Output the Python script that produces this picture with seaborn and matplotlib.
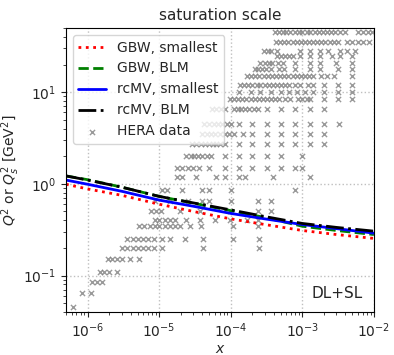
import numpy as np
import pandas as pd
import seaborn as sns
import matplotlib.pyplot as plt

# saturation scale curves
x_curve = [5e-7, 1e-6, 3e-6, 1e-5, 3e-5, 1e-4, 3e-4, 1e-3, 3e-3, 1e-2]
gbw_smallest = [0.99, 0.88, 0.75, 0.60, 0.50, 0.415, 0.36, 0.31, 0.28, 0.254]
gbw_blm = [1.22, 1.11, 0.92, 0.73, 0.615, 0.51, 0.43, 0.345, 0.31, 0.28]
rcmv_smallest = [1.10, 0.99, 0.83, 0.665, 0.57, 0.476, 0.415, 0.36, 0.325, 0.29]
rcmv_blm = [1.22, 1.10, 0.92, 0.73, 0.62, 0.52, 0.44, 0.37, 0.335, 0.305]

# HERA data points: one Q^2 bin per row, x values in that bin
hera_q2 = [45, 35, 28, 25, 21, 18, 15, 12, 10, 8.5, 6.5, 4.5, 3.5, 2.7, 2.0, 1.5, 1.2,
           0.85, 0.65, 0.5, 0.4, 0.35, 0.25, 0.2, 0.15, 0.11, 0.085, 0.065, 0.045]
hera_x = [
    [4.1e-4, 4.7e-4, 5.3e-4, 6.0e-4, 6.8e-4, 7.8e-4, 8.9e-4, 1.0e-3, 1.15e-3, 1.3e-3, 1.5e-3,
     1.7e-3, 1.95e-3, 2.2e-3, 2.5e-3, 2.9e-3, 3.4e-3, 4.0e-3, 6.0e-3, 7.0e-3, 8.2e-3, 9.4e-3],
    [4.3e-4, 4.9e-4, 5.6e-4, 6.4e-4, 7.3e-4, 8.3e-4, 9.5e-4, 1.08e-3, 1.23e-3, 1.4e-3, 1.6e-3,
     1.85e-3, 2.1e-3, 2.4e-3, 2.75e-3, 3.2e-3, 4.2e-3, 5.0e-3, 6.0e-3, 7.0e-3, 8.5e-3],
    [2.9e-4, 3.3e-4, 3.7e-4, 4.5e-4, 9.2e-4, 1.27e-3, 1.76e-3, 2.3e-3, 3.35e-3, 4.2e-3, 5.4e-3],
    [4.5e-4, 5.1e-4, 5.8e-4, 6.5e-4, 7.4e-4, 9.4e-4, 1.27e-3, 1.76e-3, 2.6e-3, 3.35e-3, 4.9e-3],
    [2.6e-4, 3.0e-4, 3.4e-4, 3.8e-4, 4.6e-4, 5.3e-4, 8.0e-4, 1.27e-3, 1.76e-3, 2.95e-3, 4.9e-3],
    [2.2e-4, 2.4e-4, 2.75e-4, 3.1e-4, 3.6e-4, 4.7e-4, 5.5e-4, 8.0e-4, 1.27e-3, 1.76e-3, 3.2e-3, 4.9e-3],
    [1.7e-4, 1.95e-4, 2.2e-4, 2.5e-4, 2.9e-4, 3.3e-4, 3.8e-4, 4.3e-4, 4.9e-4, 5.6e-4, 6.4e-4,
     7.3e-4, 8.3e-4, 9.5e-4, 1.08e-3, 1.23e-3, 1.4e-3, 1.8e-3, 2.2e-3, 2.8e-3, 5.0e-3],
    [1.34e-4, 1.53e-4, 1.75e-4, 2.0e-4, 2.3e-4, 2.6e-4, 3.0e-4, 3.4e-4, 3.9e-4, 4.5e-4, 5.1e-4,
     5.8e-4, 6.6e-4, 8.0e-4, 9.2e-4, 1.2e-3, 1.4e-3, 2.0e-3, 3.2e-3, 5.0e-3],
    [1.3e-4, 1.9e-4, 2.6e-4, 3.6e-4, 5.0e-4, 6.5e-4, 8.5e-4, 1.1e-3, 1.4e-3, 2.0e-3, 3.2e-3, 5.0e-3],
    [9.7e-5, 1.1e-4, 1.27e-4, 1.45e-4, 1.65e-4, 1.9e-4, 2.15e-4, 2.5e-4, 2.8e-4, 3.2e-4, 3.7e-4,
     4.2e-4, 4.8e-4, 5.7e-4, 6.7e-4, 8.7e-4, 1.0e-3, 1.15e-3, 1.3e-3, 2.0e-3, 3.2e-3, 5.0e-3],
    [5.5e-5, 6.3e-5, 7.2e-5, 8.2e-5, 1.1e-4, 1.25e-4, 1.4e-4, 1.6e-4, 1.8e-4, 2.1e-4, 2.4e-4,
     3.2e-4, 5.0e-4, 8.0e-4, 1.3e-3, 2.0e-3],
    [4.3e-5, 5.0e-5, 5.8e-5, 6.6e-5, 7.6e-5, 8.8e-5, 1.0e-4, 1.3e-4, 2.0e-4, 3.2e-4, 5.0e-4,
     8.0e-4, 1.3e-3, 2.0e-3, 3.3e-3],
    [4.0e-5, 4.6e-5, 5.3e-5, 6.1e-5, 7.0e-5, 8.2e-5, 9.5e-5, 1.1e-4, 1.47e-4, 2.0e-4, 3.2e-4,
     5.0e-4, 8.0e-4, 1.3e-3, 2.0e-3],
    [2.9e-5, 3.3e-5, 3.8e-5, 4.4e-5, 5.0e-5, 5.6e-5, 6.3e-5, 7.0e-5, 8.2e-5, 1.3e-4, 2.0e-4,
     3.2e-4, 5.0e-4, 8.0e-4, 1.3e-3, 2.0e-3],
    [2.4e-5, 2.75e-5, 3.1e-5, 3.5e-5, 4.0e-5, 4.6e-5, 5.3e-5, 8.2e-5, 1.3e-4, 2.0e-4, 3.2e-4,
     5.0e-4, 1.0e-3],
    [1.8e-5, 2.1e-5, 2.5e-5, 3.0e-5, 3.6e-5, 5.0e-5, 8.2e-5, 1.3e-4, 2.0e-4, 3.2e-4, 5.0e-4,
     8.0e-4, 1.0e-3],
    [1.8e-5, 2.1e-5, 3.3e-5, 6.3e-5, 8.2e-5, 1.3e-4, 1.6e-4, 3.9e-4, 1.3e-3],
    [1.1e-5, 1.3e-5, 2.1e-5, 4.0e-5, 5.0e-5, 1.0e-4, 8.0e-4],
    [8.7e-6, 1.4e-5, 2.5e-5, 4.0e-5, 5.0e-5, 1.0e-4, 2.4e-4, 3.7e-4],
    [7.8e-6, 9.1e-6, 1.07e-5, 1.95e-5, 3.7e-5, 9.7e-5, 2.4e-4, 3.7e-4],
    [8.7e-6, 1.0e-5, 1.2e-5, 1.4e-5, 1.65e-5, 2.4e-5, 3.7e-5, 6.0e-5, 9.7e-5, 1.7e-4, 2.4e-4],
    [5.3e-6, 6.2e-6, 7.4e-6, 8.7e-6, 1.0e-5, 1.2e-5, 1.4e-5, 1.65e-5, 1.95e-5, 2.7e-5, 3.9e-5,
     1.07e-4, 2.4e-4],
    [3.6e-6, 4.3e-6, 5.1e-6, 6.0e-6, 7.1e-6, 8.4e-6, 1.1e-5, 1.4e-5, 2.3e-5, 4.1e-5, 1.07e-4, 2.5e-4],
    [3.0e-6, 3.6e-6, 4.3e-6, 5.1e-6, 6.0e-6, 7.1e-6, 8.4e-6, 1.1e-5, 4.1e-5, 2.5e-4],
    [1.9e-6, 2.2e-6, 2.6e-6, 3.0e-6, 3.9e-6, 5.3e-6],
    [1.47e-6, 1.7e-6, 2.0e-6, 2.6e-6],
    [1.14e-6, 1.35e-6, 1.6e-6],
    [8.5e-7, 1.1e-6],
    [6.2e-7],
]

hera = pd.DataFrame({
    'x': [xv for row in hera_x for xv in row],
    'Q2': [q for q, row in zip(hera_q2, hera_x) for _ in row],
})

sns.set_style("ticks")
fig, ax = plt.subplots(figsize=(3.94, 3.55), dpi=100)
fig.subplots_adjust(left=0.1675, right=0.949, bottom=0.121, top=0.921)

sns.lineplot(x=x_curve, y=gbw_smallest, color='red', linestyle=':', lw=2, label='GBW, smallest', ax=ax)
sns.lineplot(x=x_curve, y=gbw_blm, color='green', linestyle='--', lw=2, label='GBW, BLM', ax=ax)
sns.lineplot(x=x_curve, y=rcmv_smallest, color='blue', linestyle='-', lw=2, label='rcMV, smallest', ax=ax)
sns.lineplot(x=x_curve, y=rcmv_blm, color='black', linestyle='-.', lw=2, label='rcMV, BLM', ax=ax)
sns.scatterplot(data=hera, x='x', y='Q2', marker='x', color='grey', s=14, linewidth=1,
                alpha=0.8, label='HERA data', ax=ax, zorder=1)

ax.set_xscale('log')
ax.set_yscale('log')
ax.set_xlim(5e-7, 1e-2)
ax.set_ylim(0.04, 50)
ax.grid(True, which='major', linestyle=':', color='0.75', lw=1)
ax.set_title('saturation scale', fontsize=11)
ax.set_xlabel('$x$', fontsize=10, labelpad=1)
ax.set_ylabel('$Q^2$ or $Q_s^2$ [GeV$^2$]', fontsize=10, labelpad=1)
ax.tick_params(labelsize=10)
for sp in ax.spines.values():
    sp.set_visible(True)
    sp.set_color('black')

ax.text(0.965, 0.04, 'DL+SL', transform=ax.transAxes, ha='right', va='bottom', fontsize=11)
ax.legend(loc='upper left', fontsize=10, framealpha=0.8)

fig.savefig('out.png', dpi=100)
